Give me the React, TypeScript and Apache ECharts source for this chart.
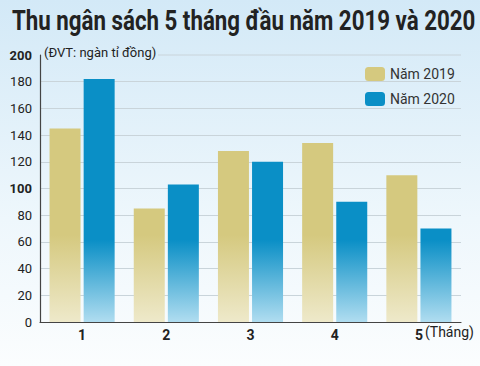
import React, { useEffect, useRef } from "react";
import * as echarts from "echarts";

const months = ["1", "2", "3", "4", "5"];
const values2019 = [145, 85, 128, 134, 110];
const values2020 = [182, 103, 120, 90, 70];
const yTicks = [0, 20, 40, 60, 80, 100, 120, 140, 160, 180, 200];
const boldTicks = [100, 200];

export default function App() {
  const ref = useRef<HTMLDivElement>(null);
  useEffect(() => {
    if (!ref.current) return;
    const chart = echarts.init(ref.current, undefined, { renderer: "svg" });
    const yellow = new echarts.graphic.LinearGradient(0, 235, 0, 322, [
      { offset: 0, color: "#d5c97f" },
      { offset: 1, color: "#eee9ca" },
    ], true);
    const blue = new echarts.graphic.LinearGradient(0, 240, 0, 322, [
      { offset: 0, color: "#0a8fc6" },
      { offset: 1, color: "#b0ddf0" },
    ], true);
    chart.setOption({
      animation: false,
      backgroundColor: "transparent",
      grid: { left: 40, right: 19, top: 55, bottom: 44 },
      legend: {
        orient: "vertical",
        left: 360,
        top: 62,
        itemWidth: 20,
        itemHeight: 14,
        itemGap: 11,
        textStyle: { fontFamily: "Roboto", fontSize: 14, color: "#333" },
        data: [
          { name: "Năm 2019", itemStyle: { color: "#d5c97f" } },
          { name: "Năm 2020", itemStyle: { color: "#0a8fc6" } },
        ],
      },
      xAxis: {
        type: "category",
        data: months,
        axisLine: { lineStyle: { color: "#444", width: 1.2 } },
        axisTick: { inside: true, length: 6, lineStyle: { color: "#666" } },
        axisLabel: {
          fontFamily: "Roboto",
          fontWeight: "bold",
          fontSize: 14,
          color: "#222",
          margin: 6,
        },
      },
      yAxis: {
        type: "value",
        min: 0,
        max: 200,
        interval: 20,
        axisLine: { show: true, lineStyle: { color: "#444", width: 1.2 } },
        axisTick: { show: false },
        splitLine: {
          showMaxLine: false,
          lineStyle: { color: "#c9d4da", width: 1 },
        },
        axisLabel: {
          fontFamily: "Roboto",
          fontSize: 13,
          color: "#222",
          margin: 8,
          formatter: (v: number) =>
            boldTicks.includes(v) ? `{b|${v}}` : `${yTicks.includes(v) ? v : ""}`,
          rich: {
            b: { fontFamily: "Roboto", fontWeight: "bold", fontSize: 13, color: "#222" },
          },
        },
      },
      series: [
        {
          name: "Năm 2019",
          type: "bar",
          data: values2019,
          barWidth: 31,
          barGap: "10%",
          itemStyle: { color: yellow },
        },
        {
          name: "Năm 2020",
          type: "bar",
          data: values2020,
          barWidth: 31,
          itemStyle: { color: blue },
        },
      ],
      graphic: [
        {
          type: "text",
          x: 12,
          y: 7,
          scaleX: 0.826,
          style: {
            text: "Thu ngân sách 5 tháng đầu năm 2019 và 2020",
            fontFamily: "Roboto",
            fontWeight: "bold",
            fontSize: 27,
            fill: "#222",
            textVerticalAlign: "top",
          },
        },
        {
          type: "line",
          shape: { x1: 158, y1: 55, x2: 461, y2: 55 },
          style: { stroke: "#c9d4da", lineWidth: 1 },
          silent: true,
        },
        {
          type: "text",
          left: 44,
          top: 46,
          style: {
            text: "(ĐVT: ngàn tỉ đồng)",
            fontFamily: "Roboto",
            fontSize: 13,
            fill: "#222",
          },
        },
        {
          type: "text",
          left: 425,
          top: 325,
          style: {
            text: "(Tháng)",
            fontFamily: "Roboto",
            fontSize: 14,
            fill: "#222",
          },
        },
      ],
    });
    return () => chart.dispose();
  }, []);
  return (
    <div
      ref={ref}
      style={{
        position: "fixed",
        left: 0,
        top: 0,
        width: 480,
        height: 366,
        background: "linear-gradient(#d3e9f7, #eef7fc 60%, #fbfdfe)",
      }}
    />
  );
}
